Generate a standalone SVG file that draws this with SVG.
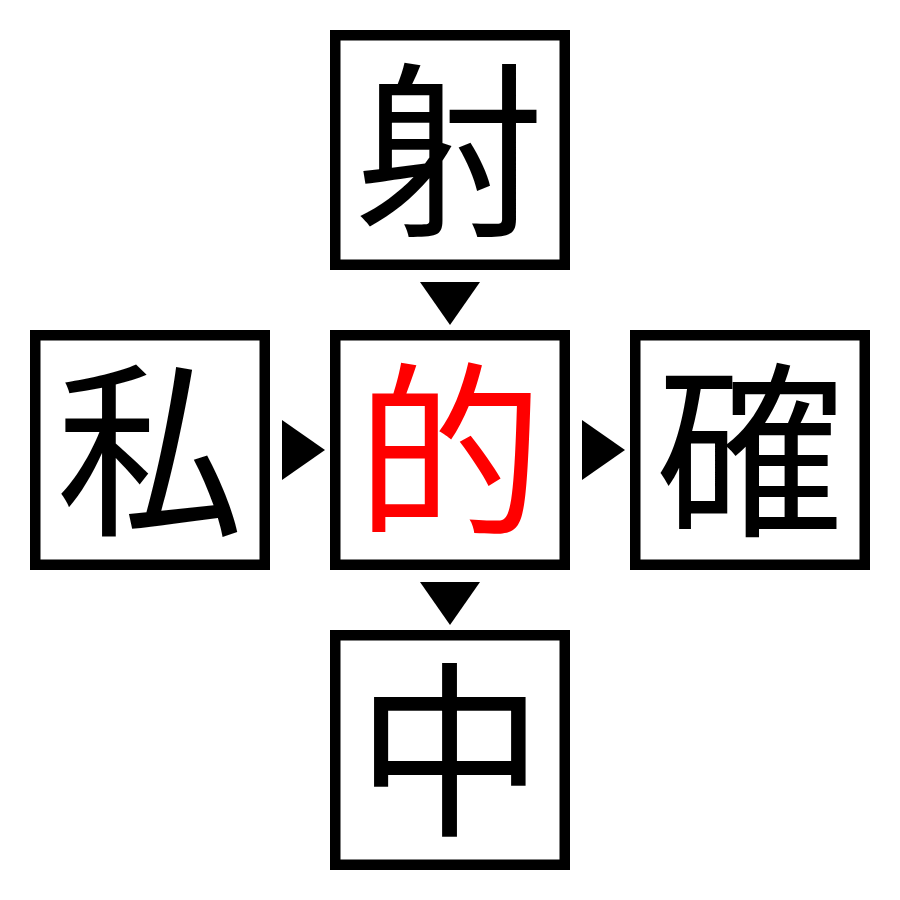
<svg xmlns="http://www.w3.org/2000/svg" width="900" height="900" viewBox="0 0 900 900">
<style>
.box{fill:#fff;stroke:#000;stroke-width:10.5}
.ch{font-family:"Noto Sans CJK JP","Noto Sans CJK SC",sans-serif;font-size:188px;text-anchor:middle;fill:#000}
.red{fill:#ff0000}
.arr{fill:#000}
</style>
<rect width="900" height="900" fill="#fff"/>
<g id="node-top"><rect class="box" x="335.25" y="35.25" width="229.5" height="229.5"/><text class="ch" x="450" y="221">射</text></g>
<g id="node-left"><rect class="box" x="35.25" y="335.25" width="229.5" height="229.5"/><text class="ch" x="150" y="521">私</text></g>
<g id="node-center"><rect class="box" x="335.25" y="335.25" width="229.5" height="229.5"/><text class="ch red" x="450" y="521">的</text></g>
<g id="node-right"><rect class="box" x="635.25" y="335.25" width="229.5" height="229.5"/><text class="ch" x="750" y="521">確</text></g>
<g id="node-bottom"><rect class="box" x="335.25" y="635.25" width="229.5" height="229.5"/><text class="ch" x="450" y="821">中</text></g>
<g id="connectors">
<polygon class="arr" points="420,282 480,282 450,325"/>
<polygon class="arr" points="282,420 325,450 282,480"/>
<polygon class="arr" points="582,420 625,450 582,480"/>
<polygon class="arr" points="420,582 480,582 450,625"/>
</g>
</svg>
